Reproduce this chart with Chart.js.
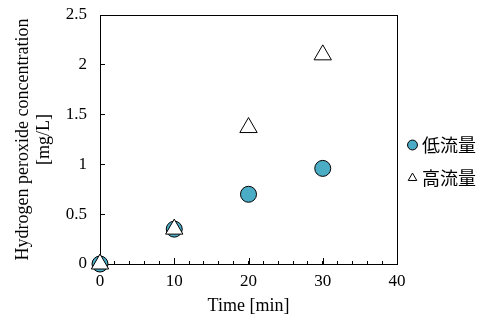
<!DOCTYPE html>
<html>
<head>
<meta charset="utf-8">
<script src="https://cdn.jsdelivr.net/npm/chart.js@4"></script>
<style>
  html, body { margin: 0; padding: 0; background: #fff; }
  #wrap { width: 489px; height: 323px; }
</style>
</head>
<body>
<div id="wrap"><canvas id="chart"></canvas></div>
<script>
// values
const timeMin = [0, 10, 20, 30];
const lowFlow = [0, 0.35, 0.70, 0.96];
const highFlow = [0, 0.35, 1.37, 2.10];
const seriesNames = ['低流量', '高流量'];
const yTitle = ['Hydrogen peroxide concentration', '[mg/L]'];
const xTitle = 'Time [min]';

const serif = "'Liberation Serif', 'Times New Roman', serif";
const cjk = "'Noto Sans CJK JP', 'Noto Sans', sans-serif";

const toPoints = ys => timeMin.map((t, i) => ({ x: t, y: ys[i] }));

// box around the plot area, plus longer marks at the labelled x ticks
const frame = {
  id: 'frame',
  beforeDatasetsDraw(chart) {
    const { ctx, chartArea: a, scales } = chart;
    ctx.save();
    ctx.strokeStyle = '#000';
    ctx.lineWidth = 1;
    ctx.strokeRect(Math.round(a.left) + 0.5, Math.round(a.top) + 0.5,
      Math.round(a.right - a.left), Math.round(a.bottom - a.top));
    ctx.beginPath();
    scales.x.ticks.forEach(t => {
      if (t.value % 10 !== 0 || t.value === 0 || t.value === 40) return;
      const px = Math.round(scales.x.getPixelForValue(t.value)) + 0.5;
      ctx.moveTo(px, a.bottom);
      ctx.lineTo(px, a.bottom - 6);
    });
    ctx.stroke();
    ctx.restore();
  }
};

new Chart(document.getElementById('chart'), {
  type: 'scatter',
  data: {
    datasets: [{
      label: seriesNames[0],
      data: toPoints(lowFlow),
      pointStyle: 'circle',
      pointRadius: 8,
      pointHoverRadius: 8,
      backgroundColor: '#4bacc6',
      borderColor: '#000',
      borderWidth: 1,
      clip: false,
      order: 1
    }, {
      label: seriesNames[1],
      data: toPoints(highFlow),
      pointStyle: 'triangle',
      pointRadius: 10,
      pointHoverRadius: 10,
      backgroundColor: '#fff',
      borderColor: '#000',
      borderWidth: 1,
      clip: false,
      order: 0
    }]
  },
  options: {
    responsive: true,
    maintainAspectRatio: false,
    animation: false,
    layout: { padding: { top: 0, right: 3, bottom: 0, left: 0 } },
    plugins: {
      tooltip: { enabled: false },
      legend: {
        position: 'right',
        align: 'center',
        labels: {
          usePointStyle: true,
          boxWidth: 1,
          boxHeight: 7,
          padding: 15,
          color: '#000',
          font: { family: cjk, size: 18, lineHeight: 0.9 },
          sort: (a, b) => a.datasetIndex - b.datasetIndex
        }
      }
    },
    scales: {
      x: {
        type: 'linear',
        min: 0,
        max: 40,
        afterFit: s => { s.height = 59; },
        ticks: {
          stepSize: 2,
          autoSkip: false,
          maxRotation: 0,
          padding: 10,
          color: '#000',
          font: { family: serif, size: 17 },
          callback: v => (v % 10 === 0 ? v : '')
        },
        grid: { drawOnChartArea: false, tickLength: -3, color: '#000' },
        border: { color: '#000', width: 1 },
        title: {
          display: true,
          text: xTitle,
          color: '#000',
          padding: { top: 2, bottom: 6 },
          font: { family: serif, size: 18 }
        }
      },
      y: {
        min: 0,
        max: 2.5,
        afterFit: s => {
          s.width = 100;
          s.paddingTop = 15;
          s.paddingBottom = 0;
        },
        ticks: {
          stepSize: 0.5,
          padding: 18,
          color: '#000',
          font: { family: serif, size: 17 },
          callback: v => String(+v.toFixed(1))
        },
        grid: { drawOnChartArea: false, tickLength: -5, color: '#000' },
        border: { color: '#000', width: 1 },
        title: {
          display: true,
          text: yTitle,
          color: '#000',
          padding: { top: 12, bottom: 4 },
          font: { family: serif, size: 18, lineHeight: 1.2 }
        }
      }
    }
  },
  plugins: [frame]
});
</script>
</body>
</html>
